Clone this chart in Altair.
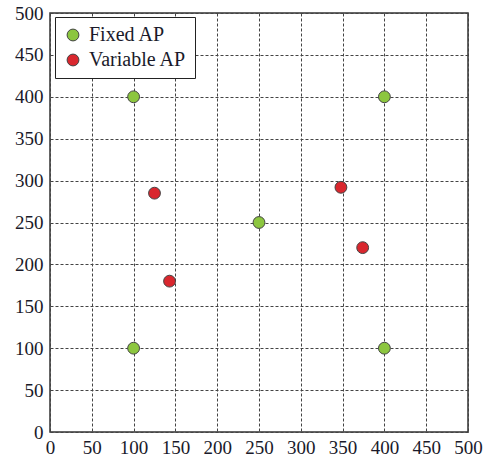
import altair as alt
import pandas as pd

fixed_x = [100, 400, 250, 100, 400]
fixed_y = [400, 400, 250, 100, 100]
var_x = [125, 143, 348, 374]
var_y = [285, 180, 292, 220]
series = ["Fixed AP", "Variable AP"]
colors = ["#8CC63F", "#D9272E"]
ticks = list(range(0, 501, 50))

df = pd.DataFrame(
    [{"x": x, "y": y, "type": series[0]} for x, y in zip(fixed_x, fixed_y)]
    + [{"x": x, "y": y, "type": series[1]} for x, y in zip(var_x, var_y)]
)

font = "Liberation Serif"

common_axis = dict(values=ticks, title=None, ticks=False,
                   labelFont=font, labelFontSize=19, labelColor="#1a1a2a",
                   labelFlush=False, labelOverlap=False,
                   grid=True, gridDash=[3, 2], gridColor="#444444", gridWidth=1,
                   domain=False)

chart = alt.Chart(df).mark_point(filled=True, size=140, opacity=1, stroke="#444444", strokeWidth=1).encode(
    x=alt.X("x:Q", scale=alt.Scale(domain=[0, 500], nice=False),
            axis=alt.Axis(labelPadding=6, **common_axis)),
    y=alt.Y("y:Q", scale=alt.Scale(domain=[0, 500], nice=False),
            axis=alt.Axis(labelPadding=7, **common_axis)),
    color=alt.Color("type:N", scale=alt.Scale(domain=series, range=colors),
                    legend=alt.Legend(title=None, orient="none", legendX=5, legendY=4,
                                      labelFont=font, labelFontSize=20, labelColor="#1a1a2a",
                                      symbolType="circle", symbolSize=140,
                                      symbolStrokeColor="#444444", symbolStrokeWidth=1,
                                      strokeColor="#222222", padding=8, rowPadding=5,
                                      fillColor="white", labelOffset=6)),
).properties(
    width=418, height=419,
    autosize=alt.AutoSizeParams(type="none"),
    padding={"left": 50, "top": 13, "right": 27, "bottom": 29},
).configure_view(stroke="#333333", strokeWidth=1.5)

chart.save("out.html", embed_options={"renderer": "svg", "actions": False})
